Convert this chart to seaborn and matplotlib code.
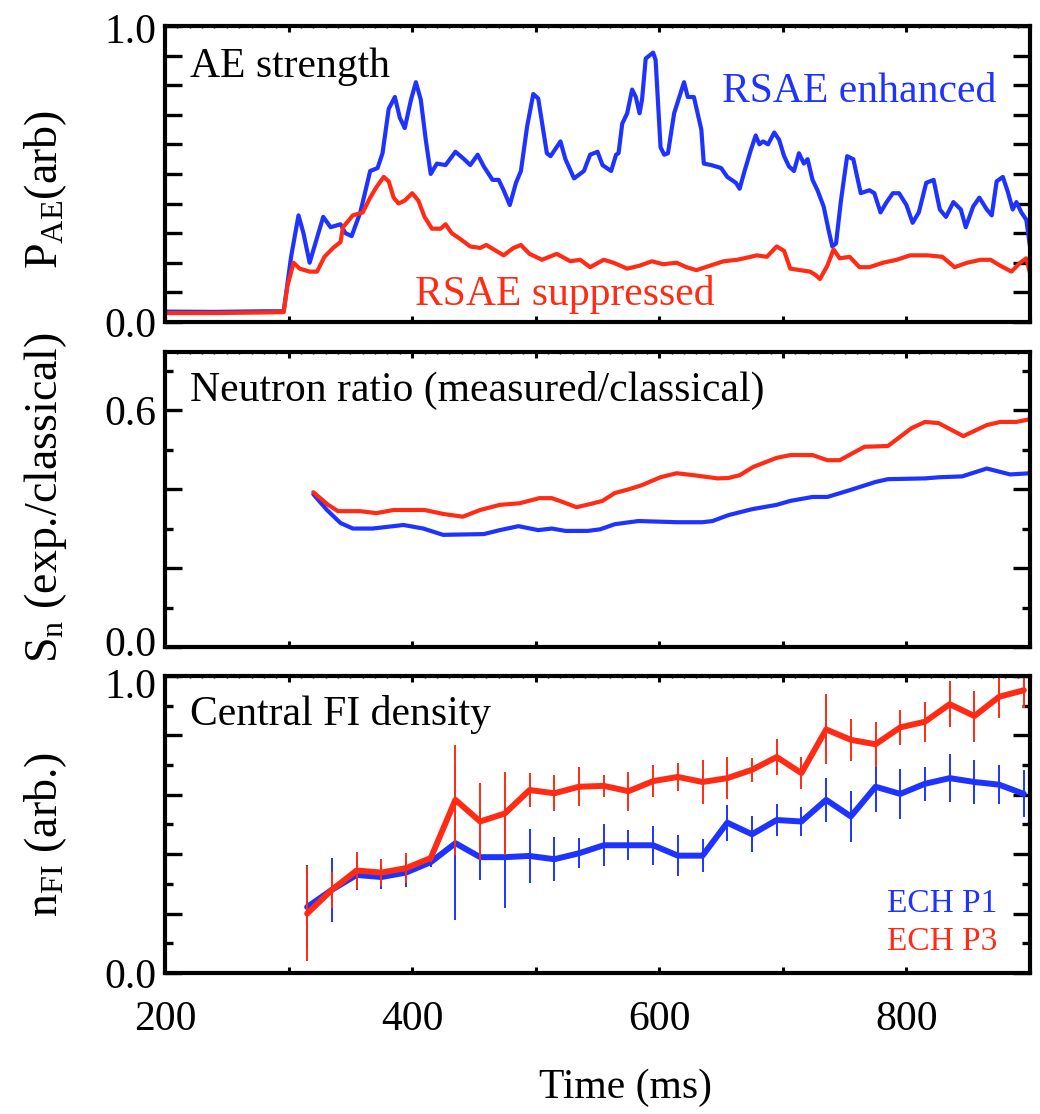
import matplotlib
matplotlib.use("Agg")
import matplotlib.pyplot as plt
import matplotlib.transforms as mtransforms
from matplotlib.ticker import MultipleLocator, FuncFormatter
import seaborn as sns

# ---- AE strength (arb) ----
ae_t_enh = [200, 240, 280, 296, 302, 308, 312, 317, 322, 328, 334, 342, 346, 351, 358,
            366, 372, 376, 381, 386, 390, 394, 399, 403, 407, 411, 415, 420, 427, 435,
            442, 447, 453, 458, 465, 470, 474, 479, 484, 488, 493, 498, 502, 509, 512,
            520, 524, 531, 539, 544, 550, 554, 561, 565, 567, 570, 574, 578, 581, 584,
            586, 589, 595, 597, 601, 604, 607, 612, 620, 623, 628, 634, 636, 642, 650,
            655, 662, 665, 669, 674, 678, 681, 684, 688, 693, 697, 701, 705, 709, 713,
            717, 720, 724, 728, 733, 737, 740, 743, 747, 752, 757, 763, 770, 774, 779,
            784, 789, 794, 800, 805, 810, 816, 822, 827, 832, 838, 844, 848, 854, 859,
            865, 869, 873, 878, 882, 886, 889, 893, 897, 900]
ae_enh = [0.035, 0.034, 0.036, 0.036, 0.22, 0.36, 0.30, 0.20, 0.27, 0.355, 0.32, 0.33, 0.30, 0.29, 0.37,
          0.51, 0.52, 0.57, 0.72, 0.76, 0.69, 0.655, 0.75, 0.81, 0.75, 0.615, 0.50, 0.535, 0.53, 0.575,
          0.55, 0.53, 0.565, 0.525, 0.48, 0.48, 0.445, 0.395, 0.47, 0.51, 0.66, 0.77, 0.755, 0.57, 0.56,
          0.61, 0.55, 0.485, 0.51, 0.565, 0.575, 0.53, 0.51, 0.565, 0.57, 0.67, 0.705, 0.785, 0.76, 0.705,
          0.75, 0.89, 0.91, 0.885, 0.59, 0.565, 0.57, 0.705, 0.81, 0.76, 0.76, 0.65, 0.535, 0.53, 0.52,
          0.49, 0.47, 0.45, 0.51, 0.58, 0.63, 0.60, 0.61, 0.60, 0.64, 0.615, 0.56, 0.525, 0.51, 0.57,
          0.535, 0.55, 0.48, 0.445, 0.39, 0.31, 0.255, 0.265, 0.41, 0.56, 0.55, 0.435, 0.445, 0.435, 0.37,
          0.405, 0.435, 0.435, 0.395, 0.335, 0.37, 0.47, 0.48, 0.38, 0.355, 0.405, 0.38, 0.32, 0.39, 0.42,
          0.38, 0.36, 0.475, 0.49, 0.44, 0.38, 0.405, 0.37, 0.345, 0.255]

ae_t_sup = [200, 240, 280, 296, 299, 304, 309, 317, 323, 329, 336, 342, 344, 352, 360,
            366, 371, 377, 381, 385, 389, 394, 400, 405, 410, 416, 423, 427, 432, 439,
            447, 455, 460, 468, 474, 482, 488, 495, 505, 517, 528, 536, 544, 555, 563,
            574, 584, 594, 603, 614, 622, 630, 641, 652, 663, 674, 679, 687, 695, 701,
            706, 714, 722, 726, 730, 736, 741, 746, 754, 762, 770, 781, 792, 803, 817,
            829, 839, 849, 860, 868, 876, 885, 892, 897, 900]
ae_sup = [0.030, 0.030, 0.032, 0.033, 0.12, 0.20, 0.18, 0.17, 0.17, 0.22, 0.25, 0.27, 0.32, 0.36, 0.37,
          0.42, 0.455, 0.49, 0.475, 0.42, 0.40, 0.41, 0.435, 0.41, 0.355, 0.315, 0.315, 0.33, 0.30, 0.28,
          0.255, 0.25, 0.26, 0.24, 0.225, 0.25, 0.26, 0.23, 0.21, 0.23, 0.205, 0.21, 0.185, 0.21, 0.20,
          0.18, 0.19, 0.205, 0.195, 0.20, 0.185, 0.175, 0.19, 0.205, 0.21, 0.22, 0.225, 0.22, 0.255, 0.24,
          0.18, 0.175, 0.17, 0.16, 0.145, 0.19, 0.245, 0.215, 0.22, 0.185, 0.185, 0.20, 0.21, 0.225, 0.225,
          0.22, 0.185, 0.20, 0.21, 0.21, 0.19, 0.17, 0.20, 0.215, 0.165]

# ---- Neutron ratio (measured / classical) ----
sn_t_p3 = [320, 332, 340, 358, 371, 385, 410, 425, 441, 455, 471, 487, 503, 513, 522,
           533, 544, 554, 564, 576, 586, 601, 614, 628, 647, 656, 665, 676, 695, 706,
           724, 736, 746, 766, 785, 804, 815, 826, 846, 865, 876, 889, 900]
sn_p3 = [0.392, 0.36, 0.344, 0.344, 0.339, 0.347, 0.347, 0.337, 0.33, 0.347, 0.36, 0.364, 0.377, 0.377, 0.367,
         0.354, 0.362, 0.37, 0.39, 0.40, 0.41, 0.43, 0.44, 0.435, 0.427, 0.428, 0.435, 0.456, 0.479, 0.486,
         0.486, 0.473, 0.473, 0.507, 0.509, 0.554, 0.57, 0.567, 0.534, 0.562, 0.57, 0.57, 0.577]

sn_t_p1 = [320, 331, 342, 352, 368, 393, 409, 425, 458, 471, 486, 502, 513, 524, 542,
           552, 564, 583, 615, 635, 643, 656, 675, 695, 706, 724, 736, 754, 775, 785,
           815, 827, 845, 865, 884, 900]
sn_p1 = [0.387, 0.347, 0.314, 0.30, 0.30, 0.309, 0.30, 0.284, 0.286, 0.296, 0.306, 0.296, 0.30, 0.294, 0.294,
         0.298, 0.311, 0.319, 0.316, 0.316, 0.319, 0.334, 0.349, 0.36, 0.37, 0.38, 0.38, 0.397, 0.418, 0.425,
         0.427, 0.43, 0.432, 0.452, 0.437, 0.44]

# ---- Central fast-ion density ----
fi_t = [315, 335, 355, 375, 395, 415, 435, 455, 475, 495, 515, 535, 555, 575, 595,
        615, 635, 655, 675, 695, 715, 735, 755, 775, 795, 815, 835, 855, 875, 895]
fi_p1 = [0.222, 0.28, 0.33, 0.323, 0.338, 0.373, 0.437, 0.39, 0.39, 0.394, 0.383, 0.403, 0.43, 0.43, 0.43,
         0.395, 0.395, 0.506, 0.467, 0.515, 0.51, 0.583, 0.527, 0.627, 0.603, 0.637, 0.656, 0.643, 0.634, 0.603]
fi_p1_err = [0.14, 0.107, 0.05, 0.04, 0.05, 0.015, 0.26, 0.077, 0.17, 0.09, 0.075, 0.05, 0.07, 0.05, 0.065,
             0.07, 0.055, 0.06, 0.06, 0.055, 0.05, 0.073, 0.085, 0.085, 0.085, 0.058, 0.08, 0.073, 0.065, 0.079]
fi_p3 = [0.20, 0.28, 0.345, 0.338, 0.353, 0.387, 0.583, 0.51, 0.537, 0.616, 0.605, 0.627, 0.63, 0.612, 0.646,
         0.66, 0.643, 0.656, 0.684, 0.727, 0.673, 0.82, 0.785, 0.77, 0.827, 0.846, 0.905, 0.865, 0.93, 0.952]
fi_p3_err = [0.16, 0.06, 0.063, 0.045, 0.05, 0.015, 0.185, 0.13, 0.14, 0.056, 0.06, 0.066, 0.037, 0.065, 0.053,
             0.048, 0.074, 0.07, 0.04, 0.06, 0.053, 0.118, 0.07, 0.075, 0.058, 0.067, 0.077, 0.086, 0.07, 0.059]

x_ticks = [200, 400, 600, 800]

BLUE = "#1f33ff"
RED = "#ff2b14"
SERIF = ["Liberation Serif", "DejaVu Serif"]

sns.set_theme(style="ticks")
plt.rcParams["font.family"] = SERIF
plt.rcParams["mathtext.fontset"] = "custom"
plt.rcParams["mathtext.rm"] = "Liberation Serif"
plt.rcParams["mathtext.it"] = "Liberation Serif:italic"
plt.rcParams["mathtext.bf"] = "Liberation Serif:bold"
for key in ("text.color", "axes.labelcolor", "xtick.color", "ytick.color", "axes.edgecolor"):
    plt.rcParams[key] = "black"
plt.rcParams["axes.linewidth"] = 3.0

fig = plt.figure(figsize=(10.4, 11.14), dpi=100)
L, W = 0.1587, 0.8317
ax1 = fig.add_axes([L, 0.7110, W, 0.2657])
ax2 = fig.add_axes([L, 0.4192, W, 0.2648])
ax3 = fig.add_axes([L, 0.1266, W, 0.2666])

# top: AE strength
sns.lineplot(x=ae_t_enh, y=ae_enh, ax=ax1, color=BLUE, lw=3.0, estimator=None, sort=False)
sns.lineplot(x=ae_t_sup, y=ae_sup, ax=ax1, color=RED, lw=3.0, estimator=None, sort=False)

# middle: neutron ratio
sns.lineplot(x=sn_t_p1, y=sn_p1, ax=ax2, color=BLUE, lw=3.0, estimator=None, sort=False)
sns.lineplot(x=sn_t_p3, y=sn_p3, ax=ax2, color=RED, lw=3.0, estimator=None, sort=False)

# bottom: FI density with error bars
ax3.errorbar(fi_t, fi_p1, yerr=fi_p1_err, fmt="none", ecolor=BLUE, elinewidth=1.4, capsize=0)
sns.lineplot(x=fi_t, y=fi_p1, ax=ax3, color=BLUE, lw=4.3, estimator=None, sort=False)
ax3.errorbar(fi_t, fi_p3, yerr=fi_p3_err, fmt="none", ecolor=RED, elinewidth=1.4, capsize=0)
sns.lineplot(x=fi_t, y=fi_p3, ax=ax3, color=RED, lw=4.3, estimator=None, sort=False)


def only(vals, fmt):
    def f(v, pos):
        for t in vals:
            if abs(v - t) < 1e-6:
                return fmt.format(v)
        return ""
    return FuncFormatter(f)


for ax in (ax1, ax2, ax3):
    ax.set_xlim(200, 900)
    ax.xaxis.set_major_locator(MultipleLocator(100))
    ax.xaxis.set_minor_locator(MultipleLocator(10))
    ax.tick_params(axis="x", which="major", direction="in", top=True, bottom=True,
                   length=4, width=2.2, labelsize=30, pad=20)
    ax.tick_params(axis="x", which="minor", direction="in", top=True, bottom=True,
                   length=1.6, width=1.0)
    ax.tick_params(axis="y", which="major", direction="in", left=True, right=True,
                   length=12, width=2.4, labelsize=30, pad=6)
    ax.tick_params(axis="y", which="minor", direction="in", left=True, right=True,
                   length=6, width=2.4)
    ax.set_xlabel("")
    ax.set_ylabel("")
    for s in ax.spines.values():
        s.set_visible(True)
        s.set_linewidth(3.0)
        s.set_color("black")

for ax in (ax1, ax2):
    ax.xaxis.set_major_formatter(FuncFormatter(lambda v, p: ""))
ax3.xaxis.set_major_formatter(only(x_ticks, "{:.0f}"))

ax1.set_ylim(0, 1.0)
ax1.yaxis.set_major_locator(MultipleLocator(0.1))
ax1.yaxis.set_major_formatter(only([0.0, 1.0], "{:.1f}"))

ax2.set_ylim(0, 0.747)
ax2.yaxis.set_major_locator(MultipleLocator(0.2))
ax2.yaxis.set_minor_locator(MultipleLocator(0.1))
ax2.yaxis.set_major_formatter(only([0.0, 0.6], "{:.1f}"))

ax3.set_ylim(0, 1.0)
ax3.yaxis.set_major_locator(MultipleLocator(0.2))
ax3.yaxis.set_minor_locator(MultipleLocator(0.1))
ax3.yaxis.set_major_formatter(only([0.0, 1.0], "{:.1f}"))

# axis labels
ylabels = [(ax1, r"P$_{\mathrm{AE}}$(arb)", 0.446),
           (ax2, r"S$_{\mathrm{n}}$ (exp./classical)", 0.505),
           (ax3, r"n$_{\mathrm{FI}}$ (arb.)", 0.465)]
for ax, txt, yc in ylabels:
    ax.set_ylabel(txt, fontsize=33)
    ax.yaxis.label.set_va("center")
    ax.yaxis.set_label_coords(-0.1387, yc)

ax3.set_xlabel("Time (ms)", fontsize=30)
ax3.xaxis.label.set_va("center")
ax3.xaxis.set_label_coords(0.532, -0.385)

# panel annotations
ax1.text(220, 0.828, "AE strength", fontsize=30, va="baseline", ha="left")
ax1.text(651, 0.743, "RSAE enhanced", fontsize=30, va="baseline", ha="left", color=BLUE)
ax1.text(402, 0.057, "RSAE suppressed", fontsize=30, va="baseline", ha="left", color=RED)
ax2.text(220, 0.623, "Neutron ratio (measured/classical)", fontsize=30, va="baseline", ha="left")
ax3.text(220, 0.835, "Central FI density", fontsize=30, va="baseline", ha="left")
ax3.text(784, 0.205, "ECH P1", fontsize=24, va="baseline", ha="left", color=BLUE)
ax3.text(784, 0.077, "ECH P3", fontsize=24, va="baseline", ha="left", color=RED)

# keep the end labels of neighbouring panels apart
fig.canvas.draw()
shifts = [(ax1, 1.0, -2), (ax2, 0.0, 4), (ax3, 1.0, -5)]
for ax, val, dy in shifts:
    for tick in ax.yaxis.get_major_ticks():
        if abs(tick.get_loc() - val) < 1e-6:
            lab = tick.label1
            lab.set_transform(lab.get_transform()
                              + mtransforms.ScaledTranslation(0, dy / 72, fig.dpi_scale_trans))

fig.savefig("out.png", dpi=100)
